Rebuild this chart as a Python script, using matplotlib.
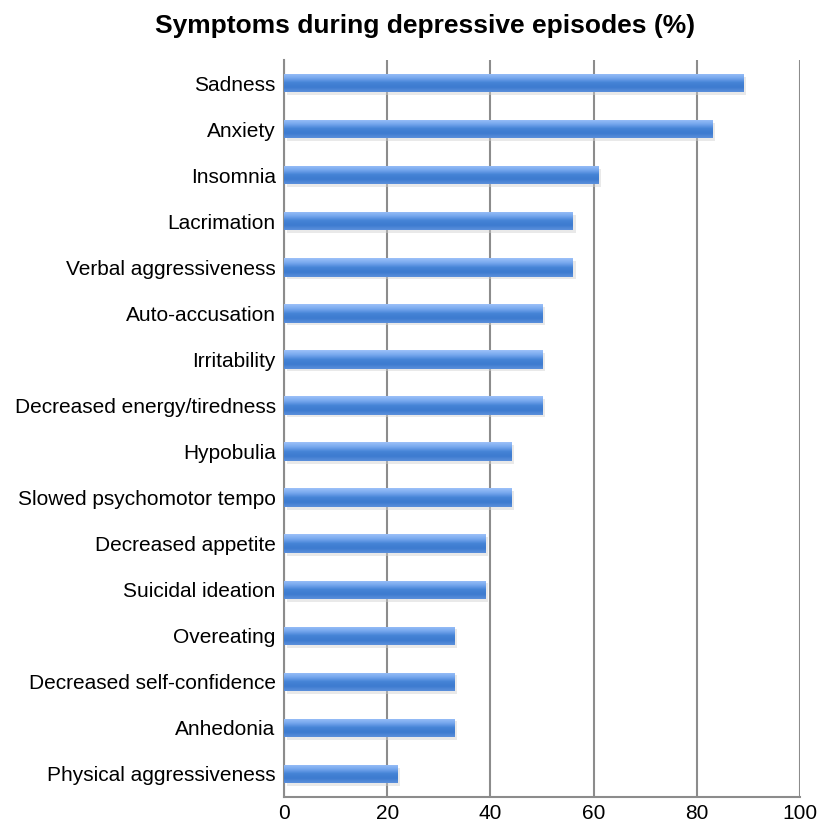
import numpy as np
import matplotlib
matplotlib.use("Agg")
import matplotlib.pyplot as plt
from matplotlib.colors import LinearSegmentedColormap

# symptoms, top to bottom
symptoms = ['Sadness', 'Anxiety', 'Insomnia', 'Lacrimation', 'Verbal aggressiveness',
            'Auto-accusation', 'Irritability', 'Decreased energy/tiredness', 'Hypobulia',
            'Slowed psychomotor tempo', 'Decreased appetite', 'Suicidal ideation',
            'Overeating', 'Decreased self-confidence', 'Anhedonia', 'Physical aggressiveness']
percent = [89, 83, 61, 56, 56, 50, 50, 50, 44, 44, 39, 39, 33, 33, 33, 22]
xticks = [0, 20, 40, 60, 80, 100]

plt.rcParams['font.family'] = ['Liberation Sans', 'DejaVu Sans']

fig = plt.figure(figsize=(8.2, 8.23), dpi=100)
ax = fig.add_axes([0.3463, 0.0316, 0.6293, 0.8954])

ypos = np.arange(len(symptoms))
h = 0.4

# soft shadow under the bars
ax.barh(ypos + 0.06, percent, height=h, left=0.5, color='#d0d0d0', alpha=0.45, zorder=2, linewidth=0)
bars = ax.barh(ypos, percent, height=h, color='#5b93e0', zorder=3, linewidth=0)

# vertical gradient on each bar (light on top, darker below)
cmap = LinearSegmentedColormap.from_list('bar', ['#9cc1f8', '#77a8ee', '#4583d6', '#3d7bcf', '#5b8fdb'])
grad = np.linspace(0, 1, 64).reshape(-1, 1)
for b in bars:
    x0, y0 = b.get_x(), b.get_y()
    w, hh = b.get_width(), b.get_height()
    im = ax.imshow(grad, cmap=cmap, aspect='auto', extent=[x0, x0 + w, y0 + hh, y0],
                   origin='upper', zorder=4)
    im.set_clip_path(b)

ax.set_xlim(0, 100)
ax.set_ylim(len(symptoms) - 0.5, -0.5)
ax.set_xticks(xticks)
ax.set_yticks(ypos)
ax.set_yticklabels(symptoms, fontsize=15)
ax.tick_params(axis='x', labelsize=15, length=0, pad=5)
ax.tick_params(axis='y', length=0, pad=6)

ax.xaxis.grid(True, color='#8c8c8c', linewidth=1.5, zorder=1)
ax.set_axisbelow(True)
for s in ['top', 'right']:
    ax.spines[s].set_visible(False)
for s in ['left', 'bottom']:
    ax.spines[s].set_color('#8c8c8c')
    ax.spines[s].set_linewidth(1.5)

fig.text(0.518, 0.968, 'Symptoms during depressive episodes (%)', fontsize=19,
         fontweight='bold', ha='center', va='center')

fig.savefig('out.png', dpi=100)
